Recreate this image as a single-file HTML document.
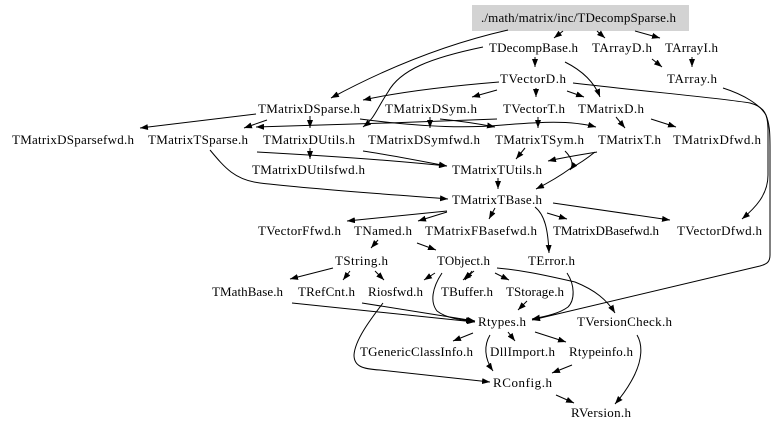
<!DOCTYPE html>
<html><head><meta charset="utf-8"><style>
html,body{margin:0;padding:0;background:#fff;}
svg{display:block;}
text{font-family:"Liberation Serif","DejaVu Serif",serif;font-size:13px;fill:#000;}
path{fill:none;stroke:#000;stroke-width:1;}
</style></head><body>
<svg width="779" height="431" viewBox="0 0 779 431" xmlns="http://www.w3.org/2000/svg">
<defs>
<marker id="a" markerUnits="userSpaceOnUse" markerWidth="9" markerHeight="6" refX="8" refY="3" orient="auto"><path d="M0,0 L8,3 L0,6 z" style="fill:#000;stroke:none"/></marker>
</defs>
<rect x="472" y="5" width="217" height="26" fill="#d3d3d3"/>
<g marker-end="url(#a)">
<path d="M508,30 Q420,50 331,98"/>
<path d="M563,31 L554,38"/>
<path d="M597,31 L605,38"/>
<path d="M635,31 L660,38"/>
<path d="M535,57 L535,67"/>
<path d="M565,62 C585,72 595,84 600,97"/>
<path d="M483,47 C430,58 400,70 388,92 C376,110 375,118 363,127"/>
<path d="M652,59 L662,67"/>
<path d="M692,57 L692,67"/>
<path d="M499,82 C450,86 400,92 363,100"/>
<path d="M497,90 L472,97"/>
<path d="M536,88 L536,97"/>
<path d="M567,91 L584,97"/>
<path d="M573,83 C650,92 720,98 750,103 C765,107 768,115 768,130 L768,175 C768,195 755,208 742,219"/>
<path d="M723,88 C745,95 760,105 766,115 C770,125 770,135 770,150 L770,255 C770,262 767,264 760,266 L532,320"/>
<path d="M256,114 L140,128"/>
<path d="M267,120 L244,128"/>
<path d="M310,116 L310,128"/>
<path d="M497,119 C420,122 330,125 256,127"/>
<path d="M430,117 L430,128"/>
<path d="M440,119 C460,121 480,124 495,127"/>
<path d="M360,119 C430,128 470,128 503,125 C540,122 570,120 596,127"/>
<path d="M538,117 L538,128"/>
<path d="M616,117 L625,128"/>
<path d="M651,119 L676,127"/>
<path d="M257,152 C330,156 400,161 447,166"/>
<path d="M310,148 L310,159"/>
<path d="M363,151 C390,155 420,161 447,166"/>
<path d="M210,150 C225,168 235,180 260,183 C320,190 400,195 448,199"/>
<path d="M525,148 L516,159"/>
<path d="M597,152 C585,154 565,157 548,161"/>
<path d="M595,152 C585,160 575,166 571,168 C560,176 548,183 536,189"/>
<path d="M565,151 C572,158 574,165 570,170"/>
<path d="M498,178 L498,189"/>
<path d="M447,211 L347,221"/>
<path d="M447,212 L418,221"/>
<path d="M495,208 L489,219"/>
<path d="M547,213 L567,219"/>
<path d="M553,203 L670,220"/>
<path d="M535,207 C545,215 548,230 549,253"/>
<path d="M378,240 L371,248"/>
<path d="M417,243 L436,250"/>
<path d="M333,268 L290,279"/>
<path d="M350,271 L343,280"/>
<path d="M375,271 L384,280"/>
<path d="M435,273 L424,280"/>
<path d="M474,271 L463,280"/>
<path d="M472,271 L465,280"/>
<path d="M495,273 L509,280"/>
<path d="M442,273 C432,288 430,302 437,311 C446,318 460,320 474,321"/>
<path d="M497,268 C520,270 540,274 575,282 C595,290 607,300 615,313"/>
<path d="M567,273 C575,285 575,300 568,307 C560,313 548,316 532,319"/>
<path d="M527,301 L518,310"/>
<path d="M292,303 L475,322"/>
<path d="M362,303 L475,321"/>
<path d="M383,303 C370,320 355,340 354,355 C354,366 362,369 380,370 L490,382"/>
<path d="M473,333 L453,341"/>
<path d="M508,332 L515,341"/>
<path d="M535,332 L566,342"/>
<path d="M490,335 C484,345 484,358 493,371"/>
<path d="M637,335 C643,345 642,360 634,376 C628,388 622,396 615,404"/>
<path d="M572,365 L552,373"/>
<path d="M556,395 L574,403"/>
</g>
<g>
<text x="481" y="22" textLength="195" lengthAdjust="spacing">./math/matrix/inc/TDecompSparse.h</text>
<text x="489" y="52" textLength="89" lengthAdjust="spacing">TDecompBase.h</text>
<text x="592" y="52" textLength="60" lengthAdjust="spacing">TArrayD.h</text>
<text x="665" y="52" textLength="53" lengthAdjust="spacing">TArrayI.h</text>
<text x="500" y="83" textLength="66" lengthAdjust="spacing">TVectorD.h</text>
<text x="667" y="83" textLength="50" lengthAdjust="spacing">TArray.h</text>
<text x="258" y="113" textLength="102" lengthAdjust="spacing">TMatrixDSparse.h</text>
<text x="385" y="113" textLength="92" lengthAdjust="spacing">TMatrixDSym.h</text>
<text x="503" y="113" textLength="62" lengthAdjust="spacing">TVectorT.h</text>
<text x="578" y="113" textLength="66" lengthAdjust="spacing">TMatrixD.h</text>
<text x="12" y="144" textLength="122" lengthAdjust="spacing">TMatrixDSparsefwd.h</text>
<text x="148" y="144" textLength="100" lengthAdjust="spacing">TMatrixTSparse.h</text>
<text x="263" y="144" textLength="92" lengthAdjust="spacing">TMatrixDUtils.h</text>
<text x="368" y="144" textLength="112" lengthAdjust="spacing">TMatrixDSymfwd.h</text>
<text x="495" y="144" textLength="89" lengthAdjust="spacing">TMatrixTSym.h</text>
<text x="598" y="144" textLength="63" lengthAdjust="spacing">TMatrixT.h</text>
<text x="673" y="144" textLength="88" lengthAdjust="spacing">TMatrixDfwd.h</text>
<text x="252" y="174" textLength="113" lengthAdjust="spacing">TMatrixDUtilsfwd.h</text>
<text x="452" y="174" textLength="90" lengthAdjust="spacing">TMatrixTUtils.h</text>
<text x="452" y="204" textLength="90" lengthAdjust="spacing">TMatrixTBase.h</text>
<text x="258" y="235" textLength="83" lengthAdjust="spacing">TVectorFfwd.h</text>
<text x="354" y="235" textLength="58" lengthAdjust="spacing">TNamed.h</text>
<text x="425" y="235" textLength="112" lengthAdjust="spacing">TMatrixFBasefwd.h</text>
<text x="553" y="235" textLength="106" lengthAdjust="spacing">TMatrixDBasefwd.h</text>
<text x="677" y="235" textLength="85" lengthAdjust="spacing">TVectorDfwd.h</text>
<text x="335" y="265" textLength="53" lengthAdjust="spacing">TString.h</text>
<text x="437" y="265" textLength="53" lengthAdjust="spacing">TObject.h</text>
<text x="528" y="265" textLength="47" lengthAdjust="spacing">TError.h</text>
<text x="212" y="296" textLength="71" lengthAdjust="spacing">TMathBase.h</text>
<text x="298" y="296" textLength="57" lengthAdjust="spacing">TRefCnt.h</text>
<text x="368" y="296" textLength="55" lengthAdjust="spacing">Riosfwd.h</text>
<text x="441" y="296" textLength="52" lengthAdjust="spacing">TBuffer.h</text>
<text x="506" y="296" textLength="58" lengthAdjust="spacing">TStorage.h</text>
<text x="478" y="326" textLength="48" lengthAdjust="spacing">Rtypes.h</text>
<text x="577" y="326" textLength="95" lengthAdjust="spacing">TVersionCheck.h</text>
<text x="360" y="356" textLength="113" lengthAdjust="spacing">TGenericClassInfo.h</text>
<text x="490" y="356" textLength="65" lengthAdjust="spacing">DllImport.h</text>
<text x="569" y="356" textLength="64" lengthAdjust="spacing">Rtypeinfo.h</text>
<text x="493" y="387" textLength="59" lengthAdjust="spacing">RConfig.h</text>
<text x="571" y="417" textLength="60" lengthAdjust="spacing">RVersion.h</text>
</g>
</svg>
</body></html>
